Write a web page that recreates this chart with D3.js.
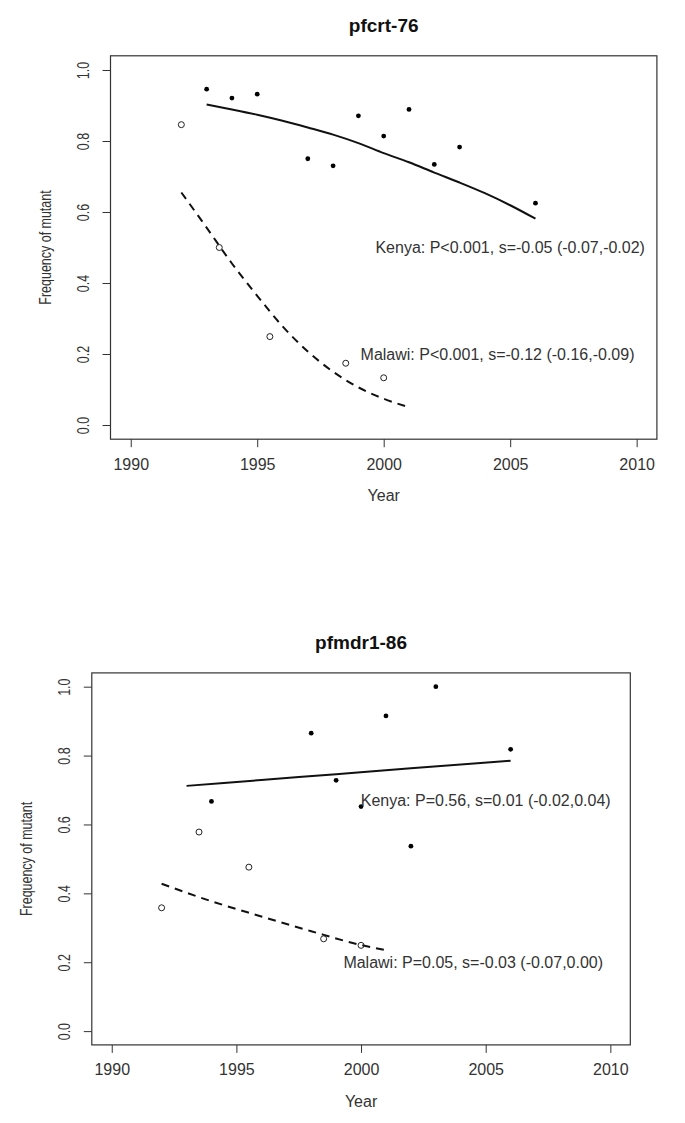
<!DOCTYPE html>
<html>
<head>
<meta charset="utf-8">
<script src="https://cdn.jsdelivr.net/npm/d3@7"></script>
<style>
  html, body { margin: 0; padding: 0; background: #fff; }
  svg { display: block; }
  text { font-family: Arial, "Liberation Sans", sans-serif; }
</style>
</head>
<body>
<svg id="chart" width="685" height="1123"></svg>
<script>
// ---------- DATA ----------
const xTicks = [1990, 1995, 2000, 2005, 2010];
const yTicks = [0, 0.2, 0.4, 0.6, 0.8, 1.0];

// Panel 1: pfcrt-76
const crtKenyaYears = [1993, 1994, 1995, 1997, 1998, 1999, 2000, 2001, 2002, 2003, 2006];
const crtKenyaFreq  = [0.946, 0.921, 0.932, 0.750, 0.730, 0.871, 0.814, 0.889, 0.734, 0.783, 0.625];
const crtMalawiYears = [1992, 1993.5, 1995.5, 1998.5, 2000];
const crtMalawiFreq  = [0.846, 0.500, 0.249, 0.174, 0.133];
const crtKenyaFitYears = [1993, 1994, 1995, 1996, 1997, 1998, 1999, 2000, 2001, 2002, 2003, 2004, 2005, 2006];
const crtKenyaFitFreq  = [0.903, 0.889, 0.874, 0.857, 0.838, 0.818, 0.794, 0.766, 0.740, 0.711, 0.683, 0.653, 0.619, 0.581];
const crtMalawiFitYears = [1992, 1993, 1994, 1995, 1996, 1997, 1998, 1999, 2000, 2001];
const crtMalawiFitFreq  = [0.655, 0.556, 0.455, 0.364, 0.278, 0.207, 0.150, 0.106, 0.074, 0.050];
const crtLabels = [
  {text: "Kenya: P<0.001, s=-0.05 (-0.07,-0.02)", x: 2005, y: 0.5},
  {text: "Malawi: P<0.001, s=-0.12 (-0.16,-0.09)", x: 2004.5, y: 0.2}
];

// Panel 2: pfmdr1-86
const mdrKenyaYears = [1994, 1998, 1999, 2000, 2001, 2002, 2003, 2006];
const mdrKenyaFreq  = [0.667, 0.865, 0.728, 0.652, 0.915, 0.537, 1.000, 0.818];
const mdrMalawiYears = [1992, 1993.5, 1995.5, 1998.5, 2000];
const mdrMalawiFreq  = [0.358, 0.578, 0.476, 0.268, 0.249];
const mdrKenyaFitYears = [1993, 1996, 1999, 2002, 2006];
const mdrKenyaFitFreq  = [0.712, 0.729, 0.746, 0.763, 0.785];
const mdrMalawiFitYears = [1992, 1994, 1996, 1998, 2000, 2001];
const mdrMalawiFitFreq  = [0.428, 0.377, 0.333, 0.290, 0.250, 0.235];
const mdrLabels = [
  {text: "Kenya: P=0.56, s=0.01 (-0.02,0.04)", x: 2005, y: 0.67},
  {text: "Malawi: P=0.05, s=-0.03 (-0.07,0.00)", x: 2004.5, y: 0.2}
];

const zip = (xs, ys) => xs.map((x, i) => [x, ys[i]]);

const panels = [
  {
    title: "pfcrt-76",
    box: {left: 110.5, right: 656.9, top: 55.8, bottom: 439.2},
    titleY: 25,
    kenya: zip(crtKenyaYears, crtKenyaFreq),
    malawi: zip(crtMalawiYears, crtMalawiFreq),
    kenyaFit: zip(crtKenyaFitYears, crtKenyaFitFreq),
    malawiFit: zip(crtMalawiFitYears, crtMalawiFitFreq),
    labels: crtLabels
  },
  {
    title: "pfmdr1-86",
    box: {left: 91.8, right: 630.3, top: 672.9, bottom: 1044.9},
    titleY: 642.7,
    kenya: zip(mdrKenyaYears, mdrKenyaFreq),
    malawi: zip(mdrMalawiYears, mdrMalawiFreq),
    kenyaFit: zip(mdrKenyaFitYears, mdrKenyaFitFreq),
    malawiFit: zip(mdrMalawiFitYears, mdrMalawiFitFreq),
    labels: mdrLabels
  }
];

const svg = d3.select("#chart");
svg.append("rect").attr("width", 685).attr("height", 1123).attr("fill", "#fff");

const axisColor = "#333";
const textColor = "#333";

panels.forEach(p => {
  const b = p.box;
  const x = d3.scaleLinear().domain([1989.2, 2010.8]).range([b.left, b.right]);
  const y = d3.scaleLinear().domain([-0.04, 1.04]).range([b.bottom, b.top]);
  const g = svg.append("g");

  // Title
  g.append("text")
    .attr("x", (b.left + b.right) / 2).attr("y", p.titleY).attr("dy", "0.35em")
    .attr("text-anchor", "middle").attr("font-size", 19).attr("font-weight", "bold")
    .attr("fill", "#111").text(p.title);

  // X axis
  const xa = g.append("g").attr("transform", `translate(0,${b.bottom})`)
    .call(d3.axisBottom(x).tickValues(xTicks).tickSize(8).tickFormat(d3.format("d")));
  xa.select(".domain").remove();
  xa.selectAll("line").attr("stroke", axisColor);
  xa.selectAll("text").attr("y", 25).attr("dy", "0.35em")
    .attr("font-size", 16).attr("fill", textColor).attr("font-family", "Arial, 'Liberation Sans', sans-serif");

  // Y axis
  const ya = g.append("g").attr("transform", `translate(${b.left},0)`)
    .call(d3.axisLeft(y).tickValues(yTicks).tickSize(8).tickFormat(d3.format(".1f")));
  ya.select(".domain").remove();
  ya.selectAll("line").attr("stroke", axisColor);
  ya.selectAll("text")
    .attr("x", null).attr("dy", null)
    .attr("text-anchor", "middle")
    .attr("transform", "translate(-27,0) rotate(-90) scale(0.78,1)")
    .attr("dy", "0.35em")
    .attr("font-size", 16).attr("fill", textColor).attr("font-family", "Arial, 'Liberation Sans', sans-serif");

  // Box
  g.append("rect")
    .attr("x", b.left).attr("y", b.top)
    .attr("width", b.right - b.left).attr("height", b.bottom - b.top)
    .attr("fill", "none").attr("stroke", axisColor).attr("stroke-width", 1.2);

  // Axis titles
  g.append("text")
    .attr("x", (b.left + b.right) / 2).attr("y", b.bottom + 56).attr("dy", "0.35em")
    .attr("text-anchor", "middle").attr("font-size", 16).attr("fill", textColor).text("Year");
  g.append("text")
    .attr("transform", `translate(${b.left - 65.5},${(b.top + b.bottom) / 2}) rotate(-90) scale(0.78,1)`)
    .attr("dy", "0.35em")
    .attr("text-anchor", "middle").attr("font-size", 16).attr("fill", textColor).text("Frequency of mutant");

  // Fitted lines
  const line = d3.line().x(d => x(d[0])).y(d => y(d[1])).curve(d3.curveMonotoneX);
  g.append("path").datum(p.kenyaFit).attr("d", line)
    .attr("fill", "none").attr("stroke", "#111").attr("stroke-width", 2);
  g.append("path").datum(p.malawiFit).attr("d", line)
    .attr("fill", "none").attr("stroke", "#111").attr("stroke-width", 2)
    .attr("stroke-dasharray", "8,6");

  // Points
  g.selectAll(".kenya").data(p.kenya).join("circle")
    .attr("cx", d => x(d[0])).attr("cy", d => y(d[1])).attr("r", 2.4)
    .attr("fill", "#000");
  g.selectAll(".malawi").data(p.malawi).join("circle")
    .attr("cx", d => x(d[0])).attr("cy", d => y(d[1])).attr("r", 3)
    .attr("fill", "none").attr("stroke", "#222").attr("stroke-width", 1);

  // Annotations
  g.selectAll(".lab").data(p.labels).join("text")
    .attr("x", d => x(d.x)).attr("y", d => y(d.y)).attr("dy", "0.35em")
    .attr("text-anchor", "middle").attr("font-size", 16).attr("fill", textColor)
    .text(d => d.text);
});
</script>
</body>
</html>
